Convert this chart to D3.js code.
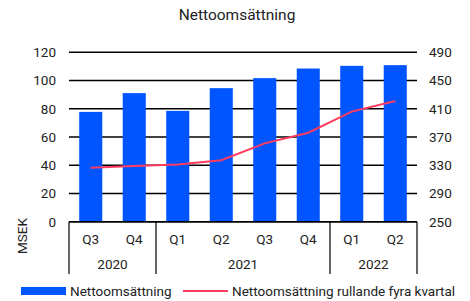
<!DOCTYPE html>
<html>
<head>
<meta charset="utf-8">
<script src="https://cdn.jsdelivr.net/npm/d3@7"></script>
<style>
  body { margin: 0; background: #fff; }
  svg { display: block; font-family: Roboto, "Noto Sans", sans-serif; }
</style>
</head>
<body>
<svg id="chart" width="470" height="301"></svg>
<script>
// ── DATA ─────────────────────────────────────────────────────────────────────
const quarters = ['Q3', 'Q4', 'Q1', 'Q2', 'Q3', 'Q4', 'Q1', 'Q2'];
const years = [
  { label: '2020', from: 0, to: 2 },
  { label: '2021', from: 2, to: 6 },
  { label: '2022', from: 6, to: 8 }
];
const sales = [77.8, 91.1, 78.5, 94.6, 101.7, 108.5, 110.4, 110.9];
const rolling = [326.5, 329, 331, 337, 361, 376, 406, 421];
const leftTicks = [0, 20, 40, 60, 80, 100, 120];
const rightTicks = [250, 290, 330, 370, 410, 450, 490];

// ── SETUP ────────────────────────────────────────────────────────────────────
const BLUE = '#0055ff', RED = '#ff3b5f';
const FS = 13.5;
const svg = d3.select('#chart');
const L = 69, R = 417, T = 52.3, B = 221.7;

const x = d3.scaleBand().domain(d3.range(quarters.length)).range([L, R]).padding(0);
const yL = d3.scaleLinear().domain([0, 120]).range([B, T]);
const yR = d3.scaleLinear().domain([250, 490]).range([B, T]);
const barW = x.bandwidth() * 0.53;

svg.append('text')
  .attr('x', 237).attr('y', 19.5)
  .attr('text-anchor', 'middle')
  .attr('font-size', 15.5).attr('fill', '#222')
  .text('Nettoomsättning');

// grid
svg.append('g').selectAll('line')
  .data(leftTicks)
  .join('line')
  .attr('x1', L).attr('x2', R)
  .attr('y1', d => yL(d)).attr('y2', d => yL(d))
  .attr('stroke', '#000').attr('stroke-width', 1.4);

// left axis
const leftAxis = svg.append('g')
  .attr('transform', `translate(${L},0)`)
  .call(d3.axisLeft(yL).tickValues(leftTicks).tickSize(0).tickPadding(13));
leftAxis.select('.domain').remove();
leftAxis.selectAll('text').attr('font-size', FS).attr('fill', '#222').attr('font-family', 'Roboto');

// right axis
const rightAxis = svg.append('g')
  .attr('transform', `translate(${R},0)`)
  .call(d3.axisRight(yR).tickValues(rightTicks).tickSize(0).tickPadding(12));
rightAxis.select('.domain').remove();
rightAxis.selectAll('text').attr('font-size', FS).attr('fill', '#222').attr('font-family', 'Roboto');

// y title
svg.append('text')
  .attr('transform', 'translate(27,236) rotate(-90)')
  .attr('text-anchor', 'middle')
  .attr('font-size', FS).attr('fill', '#222')
  .text('MSEK');

// bars
svg.append('g').selectAll('rect')
  .data(sales)
  .join('rect')
  .attr('x', (d, i) => x(i) + (x.bandwidth() - barW) / 2)
  .attr('width', barW)
  .attr('y', d => yL(d))
  .attr('height', d => B - yL(d))
  .attr('fill', BLUE);

// rolling line
const line = d3.line()
  .x((d, i) => x(i) + x.bandwidth() / 2)
  .y(d => yR(d));
svg.append('path')
  .datum(rolling)
  .attr('d', line)
  .attr('fill', 'none')
  .attr('stroke', RED)
  .attr('stroke-width', 2);

// category axis
const cat = svg.append('g');
cat.append('line')
  .attr('x1', L).attr('x2', R).attr('y1', B).attr('y2', B)
  .attr('stroke', '#000').attr('stroke-width', 1.4);
const seps = [0].concat(years.map(y => y.to));
cat.selectAll('.sep')
  .data(seps)
  .join('line')
  .attr('class', 'sep')
  .attr('x1', d => d < quarters.length ? x(d) : R)
  .attr('x2', d => d < quarters.length ? x(d) : R)
  .attr('y1', B).attr('y2', 274)
  .attr('stroke', '#000').attr('stroke-width', 1.2);
cat.selectAll('.q')
  .data(quarters)
  .join('text')
  .attr('class', 'q')
  .attr('x', (d, i) => x(i) + x.bandwidth() / 2)
  .attr('y', 244)
  .attr('text-anchor', 'middle')
  .attr('font-size', FS).attr('fill', '#222')
  .text(d => d);
cat.selectAll('.yr')
  .data(years)
  .join('text')
  .attr('class', 'yr')
  .attr('x', d => ((d.from < quarters.length ? x(d.from) : R) + (d.to < quarters.length ? x(d.to) : R)) / 2)
  .attr('y', 269)
  .attr('text-anchor', 'middle')
  .attr('font-size', FS).attr('fill', '#222')
  .text(d => d.label);

// legend
const lg = svg.append('g');
lg.append('rect').attr('x', 21).attr('y', 287).attr('width', 45).attr('height', 8).attr('fill', BLUE);
lg.append('text').attr('x', 70).attr('y', 296).attr('font-size', FS).attr('fill', '#222').text('Nettoomsättning');
lg.append('line').attr('x1', 183).attr('x2', 228).attr('y1', 291).attr('y2', 291)
  .attr('stroke', RED).attr('stroke-width', 2);
lg.append('text').attr('x', 232).attr('y', 296).attr('font-size', FS).attr('fill', '#222')
  .text('Nettoomsättning rullande fyra kvartal');
</script>
</body>
</html>
